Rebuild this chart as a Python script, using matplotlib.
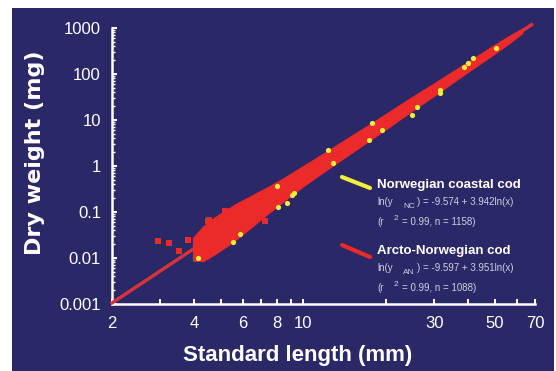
import numpy as np
import matplotlib
matplotlib.use("Agg")
import matplotlib.pyplot as plt
from matplotlib.patches import Rectangle
from matplotlib.ticker import FixedLocator, FixedFormatter, LogLocator, NullFormatter

# regression coefficients printed on the chart
nc_a, nc_b = -9.574, 3.942
an_a, an_b = -9.597, 3.951
line_x = [2, 68]

# outline of the dense red cloud
band_len = [3.95, 4.3, 4.7, 5.2, 5.8, 6.5, 7.5, 8.5, 10, 12, 14, 17, 20, 25, 30, 35, 40, 48, 56, 63]
band_upper = [0.0275, 0.0484, 0.0737, 0.110, 0.162, 0.231, 0.363, 0.555, 1.01, 1.98, 3.55,
              7.31, 13.6, 32.1, 62.9, 113, 187, 375, 659, 980]
band_lower = [0.0087, 0.0086, 0.0117, 0.0174, 0.0281, 0.0483, 0.0976, 0.175, 0.366, 0.787, 1.48,
              3.26, 6.34, 16.1, 33.8, 64.9, 113, 237, 456, 778]

# visible yellow (NC) points at the cloud edges
nc_len = [4.12, 5.54, 5.86, 7.99, 8.06, 8.7, 9.07, 9.2, 12.3, 12.8, 17.4, 17.8, 19.4, 24.8,
          25.9, 31.4, 31.4, 38.5, 39.9, 41.7, 50.6]
nc_wt = [0.010, 0.022, 0.033, 0.37, 0.128, 0.155, 0.23, 0.26, 2.2, 1.16, 3.7, 8.6, 6.1, 12.8,
         19, 39, 45, 142, 173, 223, 368]

# red (AN) outliers
an_len = [2.94, 3.23, 3.51, 3.79, 4.48, 4.52, 5.18, 7.23]
an_wt = [0.0232, 0.0212, 0.0142, 0.0246, 0.064, 0.067, 0.105, 0.064]

xticks = [2, 3, 4, 5, 6, 7, 8, 9, 10, 20, 30, 40, 50, 60, 70]
xlabels = ['2', '', '4', '', '6', '', '8', '', '10', '', '30', '', '50', '', '70']
yticks = [0.001, 0.01, 0.1, 1, 10, 100, 1000]
ylabels = ['0.001', '0.01', '0.1', '1', '10', '100', '1000']

bg = '#2b2868'
red = '#ec2a2a'
yellow = '#f2ee3a'
W, H = 556, 371

plt.rcParams['font.family'] = ['Liberation Sans', 'DejaVu Sans']

fig = plt.figure(figsize=(5.56, 3.71), dpi=100, facecolor='white')
fig.patches.append(Rectangle((12 / W, 0), (554 - 12) / W, 1 - 8 / H, transform=fig.transFigure,
                             facecolor=bg, edgecolor='none', zorder=-10))

ax = fig.add_axes([112 / W, 67 / H, 423 / W, 276 / H])
ax.set_facecolor('none')
ax.set_xscale('log')
ax.set_yscale('log')
ax.set_xlim(2, 70)
ax.set_ylim(0.001, 1000)

# fitted lines
lx = np.array(line_x, dtype=float)
ax.plot(lx, np.exp(nc_a + nc_b * np.log(lx)), color=yellow, lw=1.5, zorder=2, clip_on=False)
ax.plot(lx, np.exp(an_a + an_b * np.log(lx)), color='#d8303c', lw=2.4, zorder=3, clip_on=False)

ax.fill_between(band_len, band_lower, band_upper, color=red, lw=0.8, edgecolor=red, zorder=4)
ax.scatter(an_len, an_wt, marker='s', s=16, color=red, lw=0, zorder=4)
ax.scatter(nc_len, nc_wt, marker='o', s=14, color=yellow, lw=0, zorder=5)

for s in ['top', 'right']:
    ax.spines[s].set_visible(False)
for s in ['left', 'bottom']:
    ax.spines[s].set_color('white')
    ax.spines[s].set_linewidth(1.8)

ax.xaxis.set_major_locator(FixedLocator(xticks))
ax.xaxis.set_major_formatter(FixedFormatter(xlabels))
ax.xaxis.set_minor_locator(FixedLocator([]))
ax.yaxis.set_major_locator(FixedLocator(yticks))
ax.yaxis.set_major_formatter(FixedFormatter(ylabels))
ax.yaxis.set_minor_locator(LogLocator(base=10, subs=np.arange(2, 10), numticks=20))
ax.yaxis.set_minor_formatter(NullFormatter())
ax.tick_params(which='major', direction='in', colors='white', length=3.5, width=1.4,
               labelsize=12, labelcolor='white')
ax.tick_params(axis='x', which='major', pad=9)
ax.tick_params(axis='y', which='major', pad=8)
ax.tick_params(which='minor', direction='in', colors='white', length=2, width=1.0)

fig.text(298 / W, 1 - 355 / H, 'Standard length (mm)', color='white', fontsize=16,
         fontweight='bold', ha='center', va='center')
fig.text(35 / W, 1 - 153 / H, 'Dry weight (mg)', color='white', fontsize=16,
         fontweight='bold', ha='center', va='center', rotation=90, family='DejaVu Sans')

# legend
def fx(px):
    return px / W

def fy(py):
    return 1 - py / H

fig.add_artist(plt.Line2D([fx(342), fx(370)], [fy(177), fy(188)], color=yellow, lw=3,
                          solid_capstyle='round'))
fig.add_artist(plt.Line2D([fx(342), fx(370)], [fy(245), fy(257)], color=red, lw=3,
                          solid_capstyle='round'))

grey = '#cfcfe0'
for (name, sub, a, b, n, y0) in [('Norwegian coastal cod', 'NC', nc_a, nc_b, 1158, 185),
                                 ('Arcto-Norwegian cod', 'AN', an_a, an_b, 1088, 251)]:
    fig.text(fx(377), fy(y0), name, color='white', fontsize=9.5, fontweight='bold', va='center')
    fig.text(fx(377), fy(y0 + 17), 'ln(y', color=grey, fontsize=7, va='center')
    fig.text(fx(403), fy(y0 + 21), sub, color=grey, fontsize=6, va='center')
    fig.text(fx(417), fy(y0 + 17), ') = %.3f + %.3fln(x)' % (a, b), color=grey, fontsize=7,
             va='center')
    fig.text(fx(377), fy(y0 + 37), '(r', color=grey, fontsize=7, va='center')
    fig.text(fx(394), fy(y0 + 33), '2', color=grey, fontsize=6, va='center')
    fig.text(fx(402), fy(y0 + 37), '= 0.99, n = %d)' % n, color=grey, fontsize=7, va='center')

fig.savefig('out.png', dpi=100, facecolor=fig.get_facecolor())
